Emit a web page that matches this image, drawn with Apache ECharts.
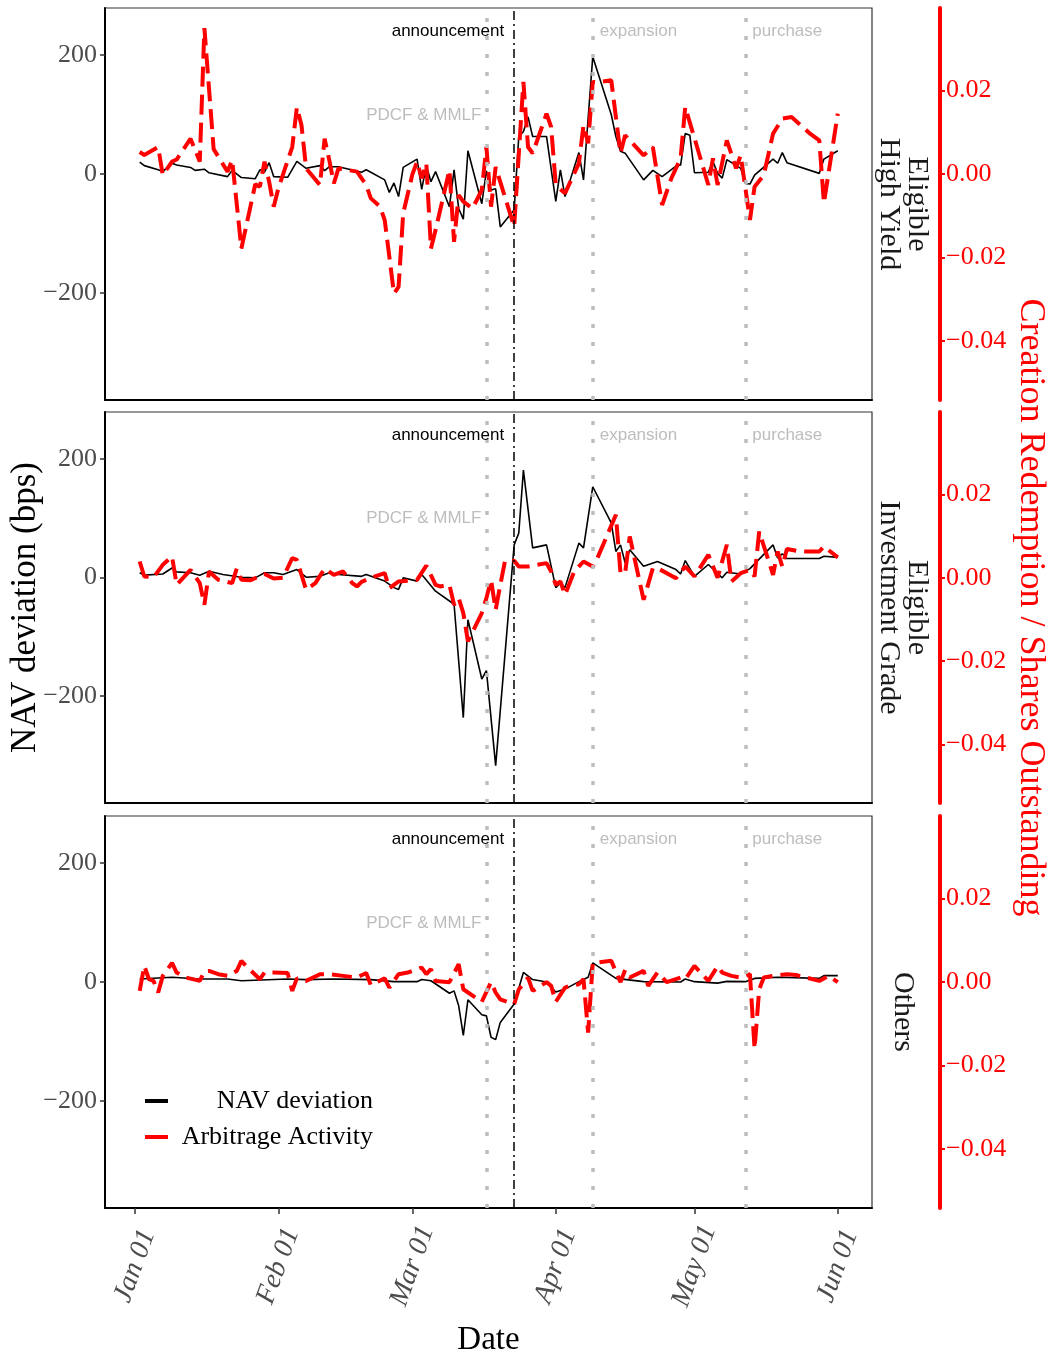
<!DOCTYPE html>
<html>
<head>
<meta charset="utf-8">
<script src="https://cdn.jsdelivr.net/npm/echarts@6/dist/echarts.min.js"></script>
<style>
  html, body { margin: 0; padding: 0; background: #fff; }
  #chart { width: 1049px; height: 1358px; }
</style>
</head>
<body>
<div id="chart"></div>
<script>
// ---------------- DATA ----------------
// x: trading date in 2020 (MM-DD); NAV deviation in bps (left axis);
// Arbitrage activity = creation redemption / shares outstanding (right axis)
const panelNames = ['Eligible\nHigh Yield', 'Eligible\nInvestment Grade', 'Others'];
const monthTickLabels = ['Jan 01', 'Feb 01', 'Mar 01', 'Apr 01', 'May 01', 'Jun 01'];
const monthTickDates = ['01-01', '02-01', '03-01', '04-01', '05-01', '06-01'];
const navTicks = [-200, 0, 200];
const arbTicks = [-0.04, -0.02, 0, 0.02];

const events = [
  { date: '03-17', label: 'PDCF & MMLF', kind: 'gray', side: 'left', level: 99 },
  { date: '03-23', label: 'announcement', kind: 'black', side: 'left', level: 239 },
  { date: '04-09', label: 'expansion', kind: 'gray', side: 'right', level: 239 },
  { date: '05-12', label: 'purchase', kind: 'gray', side: 'right', level: 239 }
];

const hyNav = [
  ['01-02',20],['01-03',14],['01-06',7],['01-07',4],['01-09',18],['01-10',15],['01-13',11],['01-14',6],
  ['01-16',8],['01-17',2],['01-21',-4.5],['01-22',6],['01-24',-6],['01-27',-8],['01-28',7],['01-29',3],
  ['01-30',19],['01-31',-4.5],['02-03',-5.6],['02-05',21],['02-07',9.5],['02-10',14],['02-11',5.6],['02-12',12],
  ['02-14',12],['02-19',3],['02-20',7],['02-24',-10],['02-25',-31],['02-26',-15],['02-27',-38],['02-28',11],
  ['03-02',25],['03-03',-26],['03-04',14],['03-05',-13],['03-06',4],['03-09',-55],['03-10',7],['03-11',-58],
  ['03-12',-76],['03-13',39],['03-16',-50],['03-17',5],['03-18',-27],['03-19',-25],['03-20',-89],['03-23',-60],
  ['03-24',63],['03-25',71],['03-26',96],['03-27',63],['03-30',63],['04-01',-46],['04-02',7],['04-03',-38],
  ['04-06',36],['04-07',-10],['04-09',197],['04-13',100],['04-14',63],['04-15',38],['04-16',35],['04-20',-10],
  ['04-22',6],['04-24',-4.5],['04-27',13],['04-28',15],['04-29',68],['04-30',65],['05-01',2],['05-04',3],
  ['05-05',21],['05-06',1],['05-07',-7],['05-08',24],['05-11',9.5],['05-12',-16],['05-13',-17],['05-14',-2],
  ['05-18',25],['05-19',18],['05-20',36],['05-21',19],['05-28',1],['05-29',25],['06-01',39]
];
const hyArb = [
  ['01-02',0.0053],['01-03',0.0046],['01-06',0.0065],['01-07',-0.0002],['01-09',0.003],['01-10',0.0035],
  ['01-13',0.0085],['01-15',0.003],['01-16',0.035],['01-18',0.006],['01-21',0.0006],['01-22',0.0034],
  ['01-24',-0.0178],['01-27',-0.0024],['01-28',-0.003],['01-29',0.003],['01-30',-0.0018],['01-31',-0.0078],
  ['02-01',-0.0034],['02-04',0.0065],['02-05',0.016],['02-06',0.0117],['02-07',0.0014],['02-10',-0.0026],
  ['02-11',0.0085],['02-12',0.0034],['02-13',-0.0022],['02-14',0.0014],['02-18',0.0006],['02-20',-0.0026],
  ['02-21',-0.0058],['02-23',-0.0078],['02-24',-0.011],['02-26',-0.0286],['02-27',-0.027],['02-28',-0.0094],
  ['03-01',0],['03-02',0.003],['03-03',-0.001],['03-04',0.0026],['03-05',-0.0178],['03-06',-0.0134],
  ['03-09',0.001],['03-10',-0.0162],['03-11',-0.005],['03-12',-0.0066],['03-14',-0.0082],['03-16',-0.0038],
  ['03-17',0.0065],['03-18',-0.0078],['03-19',0.0017],['03-23',-0.0126],['03-25',0.0221],['03-26',0.0065],
  ['03-27',0.005],['03-29',0.0113],['03-30',0.0145],['03-31',0.0113],['04-01',-0.0026],['04-03',-0.0046],
  ['04-06',0.0026],['04-07',0.0117],['04-08',0.0074],['04-09',0.0221],['04-10',0.022],['04-13',0.0225],
  ['04-15',0.005],['04-16',0.0093],['04-20',0.0045],['04-22',0.0065],['04-24',-0.0074],['04-26',-0.001],
  ['04-28',0.0038],['04-29',0.0161],['05-04',-0.0026],['05-05',0.0038],['05-06',-0.0026],['05-08',0.0081],
  ['05-10',0.0014],['05-11',0.0045],['05-13',-0.011],['05-14',-0.003],['05-16',-0.0002],['05-18',0.0097],
  ['05-20',0.0133],['05-22',0.0137],['05-26',0.0097],['05-28',0.0081],['05-29',-0.0069],['06-01',0.0145]
];

const igNav = [
  ['01-02',8],['01-03',4],['01-07',6],['01-09',16],['01-10',9.5],['01-13',8],['01-15',4],['01-17',10.6],
  ['01-20',5],['01-24',0.5],['01-27',-0.5],['01-29',8],['01-31',8],['02-02',5],['02-05',13.4],['02-07',0.5],
  ['02-10',2],['02-12',8],['02-14',5],['02-19',2],['02-20',5],['02-24',-6],['02-26',-17],['02-27',-20],
  ['02-28',-0.5],['03-02',-6],['03-03',5],['03-06',-23],['03-10',-45],['03-12',-236],['03-13',-71],['03-16',-171],
  ['03-17',-157],['03-19',-317],['03-23',55],['03-24',75],['03-25',181],['03-27',50],['03-30',55],['04-01',-17],
  ['04-02',-9],['04-03',-17],['04-06',58],['04-07',50],['04-09',153],['04-13',92],['04-14',44],['04-15',55],
  ['04-16',25],['04-17',47],['04-20',19],['04-23',27],['04-27',13.4],['04-28',6],['04-29',28.6],['05-01',2],
  ['05-04',22],['05-07',-0.5],['05-08',9],['05-11',6],['05-13',15],['05-18',55],['05-19',33],['05-20',40],
  ['05-21',32],['05-28',32],['05-29',36],['06-01',34]
];
const igArb = [
  ['01-02',0.0039],['01-03',0.0003],['01-05',0.0001],['01-07',0.0031],['01-09',0.0051],['01-10',-0.0017],
  ['01-13',0.0019],['01-15',-0.0013],['01-16',-0.0065],['01-17',0.0015],['01-19',-0.0005],['01-22',-0.0013],
  ['01-23',0.0022],['01-24',-0.0005],['01-26',-0.0006],['01-29',0.0009],['01-31',-0.0002],['02-02',0],
  ['02-04',0.0047],['02-05',0.0043],['02-06',0.0007],['02-07',-0.0029],['02-09',-0.0013],['02-11',0.0022],
  ['02-13',0.0007],['02-15',0.0015],['02-17',-0.0013],['02-18',-0.0021],['02-19',-0.001],['02-21',0],
  ['02-24',0.0011],['02-25',-0.0025],['02-27',-0.0009],['03-02',-0.0005],['03-04',0.0029],['03-06',-0.0017],
  ['03-07',-0.0021],['03-09',-0.0017],['03-10',-0.0065],['03-11',-0.0049],['03-12',-0.0085],['03-13',-0.0153],
  ['03-16',-0.0085],['03-17',-0.0049],['03-18',-0.0005],['03-19',-0.0077],['03-20',-0.0017],['03-21',0.0039],
  ['03-23',0.0041],['03-24',0.0027],['03-26',0.0027],['03-30',0.0035],['03-31',0.0015],['04-01',-0.0017],
  ['04-02',-0.0009],['04-03',-0.0041],['04-05',0.0015],['04-07',0.0039],['04-09',0.0027],['04-10',0.0047],
  ['04-14',0.0151],['04-15',0.0011],['04-16',0.0011],['04-17',0.0099],['04-20',-0.0053],['04-22',0.0023],
  ['04-23',0.0023],['04-27',-0.0001],['04-29',0.0027],['05-01',0.0003],['05-04',0.0055],['05-06',0],
  ['05-08',0.0079],['05-09',-0.0009],['05-11',0.0011],['05-13',0.0019],['05-14',0.0003],['05-15',0.0111],
  ['05-18',0.0007],['05-19',0.0063],['05-20',0.0027],['05-21',0.0069],['05-24',0.0063],['05-28',0.0063],
  ['05-29',0.0075],['06-01',0.0049]
];

const otNav = [
  ['01-02',5],['01-09',8],['01-15',5],['01-21',5],['01-24',2],['02-03',5],['02-07',4],['02-13',5],
  ['02-21',4],['02-26',0.5],['03-02',0.5],['03-03',4],['03-05',2],['03-09',-19],['03-10',-15],['03-11',-40],
  ['03-12',-90],['03-13',-30],['03-16',-55],['03-17',-57],['03-18',-93],['03-19',-97],['03-20',-68],['03-23',-37],
  ['03-25',16],['03-27',4],['03-30',0],['04-01',-17],['04-03',-12],['04-06',0.5],['04-08',8],['04-09',32],
  ['04-14',6],['04-20',0.5],['04-28',0],['04-29',5],['05-01',0.5],['05-06',-2],['05-08',1],['05-12',0.5],
  ['05-14',6],['05-19',8],['05-28',6],['05-29',10.6],['06-01',10.6]
];
const otArb = [
  ['01-02',-0.0021],['01-03',0.0039],['01-04',0.0007],['01-05',0.0003],['01-06',-0.0025],['01-07',0.0015],
  ['01-09',0.0046],['01-10',0.0023],['01-12',0.0011],['01-15',0.0003],['01-16',0.0026],['01-17',0.0027],
  ['01-19',0.0019],['01-21',0.0015],['01-23',0.0027],['01-24',0.0051],['01-25',0.0039],['01-28',0.0007],
  ['01-29',0.0023],['01-31',0.0023],['02-03',0.0022],['02-04',-0.0021],['02-05',0.0009],['02-07',0.0003],
  ['02-10',0.0019],['02-12',0.0019],['02-15',0.0015],['02-18',0.0011],['02-20',0.0022],['02-21',-0.0007],
  ['02-24',0.0009],['02-25',-0.0013],['02-27',0.0019],['02-29',0.0023],['03-03',0.0035],['03-04',0.0019],
  ['03-05',0.0031],['03-06',0.0003],['03-09',0],['03-11',0.0043],['03-12',-0.0017],['03-16',-0.0047],
  ['03-18',0],['03-19',-0.0025],['03-20',-0.0041],['03-23',-0.0053],['03-24',-0.0017],['03-25',-0.0005],
  ['03-26',0.0011],['03-27',-0.0021],['03-30',0],['03-31',-0.0009],['04-01',-0.0047],['04-03',-0.0013],
  ['04-04',-0.0009],['04-06',-0.0005],['04-07',0.0007],['04-08',-0.0121],['04-09',0.0046],['04-13',0.0051],
  ['04-15',0],['04-16',0.0029],['04-17',0.0011],['04-20',0.0027],['04-21',-0.0009],['04-23',0.0023],
  ['04-25',0],['04-28',0.0011],['04-29',0.0007],['05-01',0.0039],['05-04',0.0003],['05-06',0.0038],
  ['05-07',0.0023],['05-09',0.0015],['05-11',0.0011],['05-13',0.0019],['05-14',-0.016],['05-15',-0.0017],
  ['05-16',0.0011],['05-18',0.0015],['05-21',0.0019],['05-23',0.0017],['05-28',0.0003],['05-30',0.0015],
  ['06-01',0]
];

const navSeries = [hyNav, igNav, otNav];
const arbSeries = [hyArb, igArb, otArb];

// ---------------- HELPERS ----------------
// x axis is "days since 2020-01-01" so that month-start ticks can be placed exactly
const DAY = 86400000;
const T0 = Date.UTC(2020, 0, 1);
function dayOf(md) { const p = md.split('-').map(Number); return Math.round((Date.UTC(2020, p[0] - 1, p[1]) - T0) / DAY); }
function toPoints(arr) { return arr.map(function (d) { return [dayOf(d[0]), d[1]]; }); }
const xMin = -6.5;
const xMax = 159.4;
const monthTicks = monthTickDates.map(dayOf);
const minus = '\u2212';

const SERIF = '"Liberation Serif", "Times New Roman", serif';
const SANS = '"Liberation Sans", Arial, sans-serif';
const RED = '#ff0000';
const GRAY = '#bdbdbd';

const grids = [
  { left: 105, top: 8, width: 767, height: 392 },
  { left: 105, top: 412, width: 767, height: 391 },
  { left: 105, top: 816, width: 767, height: 392 }
].map(function (g) {
  return Object.assign({ show: true, borderColor: '#333', borderWidth: 1.2, backgroundColor: '#fff',
    containLabel: false, outerBoundsMode: 'none' }, g);
});

const xAxes = [0, 1, 2].map(function (i) {
  const last = i === 2;
  return {
    type: 'value', gridIndex: i, min: xMin, max: xMax,
    axisLine: { show: true, onZero: false, lineStyle: { color: '#000', width: 2 } },
    axisTick: { show: last, customValues: monthTicks, length: 6, lineStyle: { color: '#333', width: 1.5 } },
    axisLabel: {
      show: last, customValues: monthTicks, rotate: 70, margin: 58,
      align: 'center', verticalAlign: 'middle',
      fontFamily: SERIF, fontStyle: 'italic', fontSize: 28, color: '#4d4d4d',
      formatter: function (v) {
        const idx = monthTicks.indexOf(Math.round(v));
        return idx >= 0 ? monthTickLabels[idx] : '';
      }
    },
    splitLine: { show: false },
    name: last ? 'Date' : '',
    nameLocation: 'middle', nameGap: 116, nameMoveOverlap: false,
    nameTextStyle: { fontFamily: SERIF, fontSize: 33, color: '#000' }
  };
});

const yAxes = [];
[0, 1, 2].forEach(function (i) {
  yAxes.push({
    type: 'value', gridIndex: i, min: -380, max: 279, position: 'left',
    axisLine: { show: true, onZero: false, lineStyle: { color: '#000', width: 2 } },
    axisTick: { show: true, customValues: navTicks, length: 5, lineStyle: { color: '#333', width: 1.5 } },
    axisLabel: {
      customValues: navTicks, margin: 8, fontFamily: SERIF, fontSize: 26, color: '#4d4d4d',
      formatter: function (v) { return v < 0 ? minus + Math.abs(v) : String(v); }
    },
    splitLine: { show: false },
    name: i === 1 ? 'NAV deviation (bps)' : '',
    nameLocation: 'middle', nameRotate: 90, nameGap: 62, nameMoveOverlap: false,
    nameTextStyle: { fontFamily: SERIF, fontSize: 35, color: '#000' }
  });
  yAxes.push({
    type: 'value', gridIndex: i, min: -0.0541, max: 0.0398, position: 'right', offset: 68,
    axisLine: { show: true, onZero: false, lineStyle: { color: RED, width: 4 } },
    axisTick: { show: true, customValues: arbTicks, length: 5, lineStyle: { color: RED, width: 2 } },
    axisLabel: {
      customValues: arbTicks, margin: 6, fontFamily: SERIF, fontSize: 26, color: RED,
      formatter: function (v) { return (v < -1e-9 ? minus : '') + Math.abs(v).toFixed(2); }
    },
    splitLine: { show: false },
    name: i === 1 ? 'Creation Redemption / Shares Outstanding' : '',
    nameLocation: 'middle', nameRotate: -90, nameGap: 72, nameMoveOverlap: false,
    nameTextStyle: { fontFamily: SERIF, fontSize: 36, color: RED }
  });
});

function eventLines() {
  return {
    silent: true, symbol: ['none', 'none'], label: { show: false }, animation: false,
    data: events.map(function (e) {
      return {
        xAxis: dayOf(e.date),
        lineStyle: e.kind === 'black'
          ? { color: '#000', width: 1.5, type: [9, 4, 2, 4] }
          : { color: GRAY, width: 3.5, type: [4, 14] }
      };
    })
  };
}
function eventLabels() {
  return {
    silent: true, animation: false,
    data: events.map(function (e) {
      return {
        coord: [dayOf(e.date), e.level], symbol: 'circle', symbolSize: 0,
        label: {
          show: true, formatter: e.label, position: e.side,
          distance: e.kind === 'black' ? 10 : (e.side === 'left' ? 5 : 7),
          fontFamily: SANS, fontSize: 17, color: e.kind === 'black' ? '#000' : GRAY
        }
      };
    })
  };
}

const series = [];
[0, 1, 2].forEach(function (i) {
  series.push({
    name: 'NAV deviation', type: 'line', xAxisIndex: i, yAxisIndex: 2 * i,
    data: toPoints(navSeries[i]), showSymbol: false, symbol: 'none', z: 3,
    lineStyle: { color: '#000', width: 1.6 },
    markLine: eventLines(), markPoint: eventLabels()
  });
  series.push({
    name: 'Arbitrage Activity', type: 'line', xAxisIndex: i, yAxisIndex: 2 * i + 1,
    data: toPoints(arbSeries[i]), showSymbol: false, symbol: 'none', z: 4,
    lineStyle: { color: RED, width: 4, type: [20, 8], cap: 'butt' }
  });
});

const stripCenters = [204, 607.5, 1012];
const graphics = stripCenters.map(function (cy, i) {
  return {
    type: 'text', x: 903, y: cy, rotation: -Math.PI / 2, silent: true,
    style: {
      text: panelNames[i], fill: '#1a1a1a', font: '30px ' + SERIF,
      align: 'center', verticalAlign: 'middle', lineHeight: 28
    }
  };
});
// legend keys
graphics.push(
  { type: 'line', silent: true, shape: { x1: 145, y1: 1101, x2: 168, y2: 1101 }, style: { stroke: '#000', lineWidth: 4 } },
  { type: 'line', silent: true, shape: { x1: 145, y1: 1137, x2: 168, y2: 1137 }, style: { stroke: RED, lineWidth: 4 } },
  { type: 'text', silent: true, x: 373, y: 1101, style: { text: 'NAV deviation', font: '26px ' + SERIF, fill: '#000', align: 'right', verticalAlign: 'middle' } },
  { type: 'text', silent: true, x: 373, y: 1137, style: { text: 'Arbitrage Activity', font: '26px ' + SERIF, fill: '#000', align: 'right', verticalAlign: 'middle' } }
);

const chart = echarts.init(document.getElementById('chart'), null, { renderer: 'canvas' });
chart.setOption({
  animation: false,
  backgroundColor: '#fff',
  grid: grids,
  xAxis: xAxes,
  yAxis: yAxes,
  series: series,
  graphic: graphics
});
</script>
</body>
</html>
